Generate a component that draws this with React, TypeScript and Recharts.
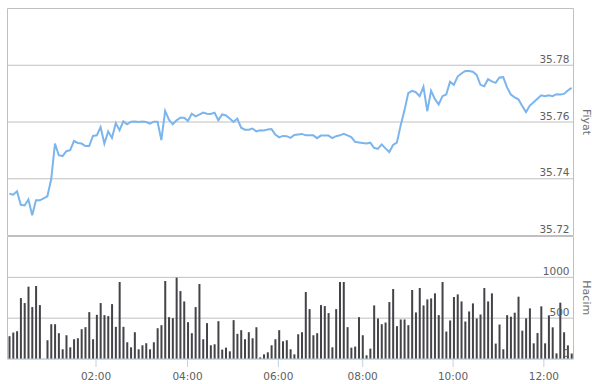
import React from "react";
import { LineChart, Line, BarChart, Bar, XAxis, YAxis, CartesianGrid } from "recharts";

const price = [
  35.7347, 35.7344, 35.7356, 35.7308, 35.7306, 35.7327, 35.7271, 35.7324, 35.7324, 35.7331,
  35.7338, 35.7398, 35.7524, 35.7483, 35.748, 35.7497, 35.7501, 35.7533, 35.7526, 35.7524,
  35.7515, 35.7515, 35.7551, 35.7553, 35.7582, 35.7524, 35.7567, 35.7544, 35.7596, 35.7571,
  35.7602, 35.7592, 35.7601, 35.7602, 35.76, 35.7602, 35.76, 35.7594, 35.7601, 35.7601,
  35.7536, 35.7639, 35.7608, 35.7592, 35.7606, 35.7615, 35.7615, 35.7604, 35.7629, 35.762,
  35.7626, 35.7633, 35.7629, 35.7628, 35.7633, 35.7606, 35.7627, 35.7623, 35.7612, 35.76,
  35.7612, 35.758, 35.7573, 35.7573, 35.7577, 35.7567, 35.7571, 35.757, 35.7574, 35.7575,
  35.7556, 35.7546, 35.7551, 35.755, 35.7544, 35.7554, 35.7556, 35.7558, 35.7553, 35.7553,
  35.7553, 35.7543, 35.7552, 35.7552, 35.7552, 35.7543, 35.755, 35.7553, 35.7558, 35.7553,
  35.7547, 35.753, 35.7528, 35.7526, 35.7524, 35.7527, 35.7509, 35.7505, 35.7521, 35.7507,
  35.7494, 35.7519, 35.7527, 35.7588, 35.7641, 35.7702, 35.771, 35.7705, 35.7691, 35.7724,
  35.7638, 35.771, 35.7681, 35.7662, 35.7691, 35.7697, 35.7742, 35.7731, 35.776, 35.7771,
  35.778, 35.778, 35.7777, 35.7766, 35.7731, 35.7726, 35.7751, 35.7743, 35.7738, 35.7757,
  35.7758, 35.7722, 35.7697, 35.7687, 35.768, 35.7656, 35.7635, 35.7658, 35.767, 35.7682,
  35.7694, 35.7691, 35.7694, 35.7691, 35.7698, 35.7697, 35.7699, 35.7711, 35.772,
];

const volume = [
  279, 324, 340, 746, 685, 886, 636, 894, 660, 0,
  230, 426, 426, 316, 119, 291, 143, 242, 254, 365,
  390, 574, 242, 541, 685, 537, 525, 672, 394, 943,
  394, 205, 143, 328, 119, 168, 193, 119, 205, 377,
  414, 955, 512, 500, 996, 832, 705, 451, 316, 636,
  918, 242, 439, 168, 180, 463, 115, 139, 94, 476,
  308, 353, 242, 328, 254, 390, 20, 57, 82, 168,
  242, 353, 217, 230, 119, 57, 303, 328, 820, 611,
  291, 316, 660, 648, 562, 143, 611, 943, 943, 390,
  139, 152, 512, 291, 45, 127, 656, 496, 426, 447,
  697, 857, 402, 484, 484, 414, 845, 570, 869, 656,
  730, 742, 804, 537, 943, 336, 472, 759, 791, 705,
  459, 582, 681, 496, 545, 869, 705, 804, 189, 422,
  119, 537, 518, 567, 763, 347, 498, 620, 192, 318,
  645, 192, 535, 388, 69, 690, 327, 167, 67,
];

const xTickIndex = [22.8, 46.9, 70.8, 93.0, 116.8, 140.7];
const xTickLabels = ["02:00", "04:00", "06:00", "08:00", "10:00", "12:00"];
const priceTicks = [35.72, 35.74, 35.76, 35.78, 35.8];
const volumeTicks = [0, 500, 1000, 1500];

const rows = price.map((p, i) => ({ i, p, v: volume[i] }));

const W = 592;
const AXIS_W = 18.5;
const LEFT = 7.5;
const FONT = "'DejaVu Sans', sans-serif";
const LABEL_COLOR = "#606060";
const GRID = "#C0C0C0";

const borderGen = ({ offset }: any) => [offset.left, offset.left + offset.width];

const makeYTick = (hideValue: number) => (props: any) => {
  const { y, payload } = props;
  if (payload.value === hideValue) return <g />;
  return (
    <text
      x={W - AXIS_W - 4}
      y={y - 2.5}
      textAnchor="end"
      fontFamily={FONT}
      fontSize={10.5}
      fill={LABEL_COLOR}
    >
      {String(payload.value)}
    </text>
  );
};

const makeTitle = (title: string) => (props: any) => {
  const vb = props.viewBox || {};
  const cx = vb.x + 12.5;
  const cy = vb.y + vb.height / 2;
  return (
    <text
      x={cx}
      y={cy}
      transform={`rotate(90 ${cx} ${cy})`}
      textAnchor="middle"
      dominantBaseline="central"
      fontFamily={FONT}
      fontSize={11}
      fill="#707070"
    >
      {title}
    </text>
  );
};

const fmtX = (v: number) => {
  const k = xTickIndex.indexOf(v);
  return k >= 0 ? xTickLabels[k] : "";
};

export default function App() {
  return (
    <div style={{ position: "absolute", left: 0, top: 0, width: W, height: 384, background: "#fff" }}>
      <div style={{ position: "absolute", left: 0, top: 0 }}>
        <LineChart width={W} height={236} data={rows} margin={{ top: 8.5, right: 0, bottom: 0.5, left: LEFT }}>
          <CartesianGrid
            yAxisId="p"
            stroke={GRID}
            strokeWidth={1}
            verticalCoordinatesGenerator={borderGen}
          />
          <XAxis dataKey="i" type="number" domain={[-0.5, 148.5]} hide />
          <Line
            yAxisId="p"
            type="linear"
            dataKey="p"
            stroke="#7cb5ec"
            strokeWidth={2}
            dot={false}
            isAnimationActive={false}
          />
          <YAxis
            yAxisId="p"
            orientation="right"
            width={AXIS_W}
            domain={[35.72, 35.8]}
            ticks={priceTicks}
            interval={0}
            axisLine={false}
            tickLine={false}
            tick={makeYTick(35.8)}
            label={{ content: makeTitle("Fiyat") }}
          />
        </LineChart>
      </div>
      <div style={{ position: "absolute", left: 0, top: 236 }}>
        <BarChart width={W} height={148} data={rows} margin={{ top: 0.5, right: 0, bottom: 0, left: LEFT }}>
          <CartesianGrid
            yAxisId="v"
            stroke={GRID}
            strokeWidth={1}
            verticalCoordinatesGenerator={borderGen}
          />
          <Bar yAxisId="v" dataKey="v" fill="#434348" barSize={2} isAnimationActive={false} />
          <XAxis
            dataKey="i"
            type="number"
            domain={[-0.5, 148.5]}
            ticks={xTickIndex}
            interval={0}
            tickFormatter={fmtX}
            height={25}
            axisLine={{ stroke: "#C0D0E0" }}
            tickLine={{ stroke: "#C0D0E0" }}
            tickSize={8}
            tickMargin={5.5}
            tick={{ fontFamily: FONT, fontSize: 10.5, fill: LABEL_COLOR }}
          />
          <YAxis
            yAxisId="v"
            orientation="right"
            width={AXIS_W}
            domain={[0, 1500]}
            ticks={volumeTicks}
            interval={0}
            axisLine={false}
            tickLine={false}
            tick={makeYTick(1500)}
            label={{ content: makeTitle("Hacim") }}
          />
        </BarChart>
      </div>
    </div>
  );
}
